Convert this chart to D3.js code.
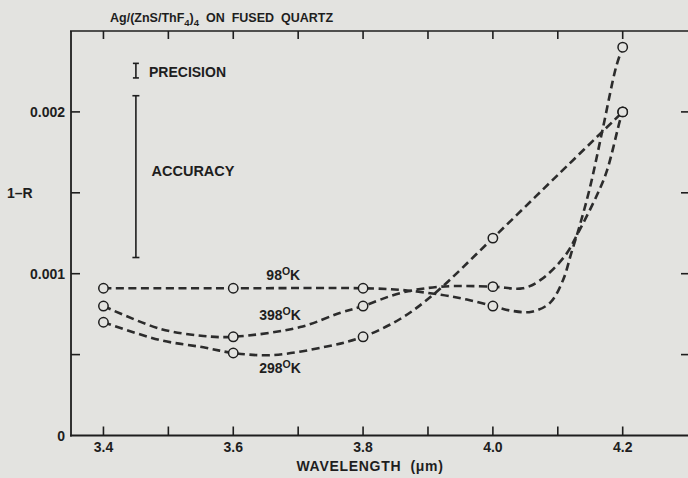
<!DOCTYPE html>
<html><head><meta charset="utf-8">
<script src="https://cdn.jsdelivr.net/npm/d3@7"></script>
<style>
html,body{margin:0;padding:0;background:#e3e3e0;}
svg{display:block;}
text{font-family:"Liberation Sans",Arial,Helvetica,sans-serif;font-weight:bold;fill:#1e1e1e;}
</style></head>
<body>
<script>
// ---- data ----
const wavelengths = [3.4, 3.6, 3.8, 4.0, 4.2];
const r98  = [0.00091, 0.00091, 0.00091, 0.00080, 0.00240];
const r398 = [0.00080, 0.00061, 0.00080, 0.00092, 0.00200];
const r298 = [0.00070, 0.00051, 0.00061, 0.00122, 0.00200];
// hand-drawn curve traces [wavelength, 1-R]
const trace98 = [[3.4,0.00091],[3.6,0.00091],[3.8,0.00091],[3.857,0.00090],[3.92,0.00087],[3.96,0.00084],[4.0,0.00080],[4.03,0.00077],[4.06,0.000765],[4.088,0.00082],[4.108,0.00096],[4.121,0.00113],[4.134,0.00130],[4.15,0.00154],[4.169,0.00189],[4.19,0.00228],[4.2,0.00240]];
const trace398 = [[3.4,0.00080],[3.487,0.00066],[3.554,0.000615],[3.6,0.00061],[3.703,0.00067],[3.764,0.000757],[3.8,0.00080],[3.857,0.00088],[3.92,0.00092],[4.0,0.00092],[4.046,0.00091],[4.073,0.00096],[4.111,0.00111],[4.131,0.00125],[4.162,0.00150],[4.176,0.00164],[4.196,0.00195],[4.2,0.00200]];
const trace298 = [[3.4,0.00070],[3.487,0.00059],[3.554,0.000545],[3.6,0.00051],[3.66,0.000497],[3.744,0.00055],[3.8,0.00061],[3.857,0.00072],[3.908,0.00087],[4.0,0.00122],[4.1,0.00161],[4.2,0.00200]];
const seriesLabels = ["98", "398", "298"];
const xTickLabels = ["3.4", "3.6", "3.8", "4.0", "4.2"];
const yTickLabels = ["0", "0.001", "0.002"];
const xTicks = [3.4,3.5,3.6,3.7,3.8,3.9,4.0,4.1,4.2];
const yTicks = [0.0005,0.001,0.0015,0.002];
const precisionBar = [0.00221, 0.00230];
const accuracyBar = [0.00110, 0.00210];

const W = 688, H = 478;
const svg = d3.select("body").append("svg").attr("width", W).attr("height", H);
const x = d3.scaleLinear().domain([3.35, 4.3]).range([71, 687.6]);
const y = d3.scaleLinear().domain([0, 0.0025]).range([435.5, 31]);
const ink = "#1e1e1e";

// frame
svg.append("line").attr("x1", x(3.35)).attr("x2", x(3.35)).attr("y1", y(0.0025)).attr("y2", y(0)+1).attr("stroke", ink).attr("stroke-width", 1.8);
svg.append("line").attr("x1", x(3.35)-1).attr("x2", W).attr("y1", y(0)).attr("y2", y(0)).attr("stroke", ink).attr("stroke-width", 1.8);
svg.append("line").attr("x1", x(3.35)-1).attr("x2", W).attr("y1", y(0.0025)).attr("y2", y(0.0025)).attr("stroke", ink).attr("stroke-width", 1.6);

// ticks
const tk = svg.append("g").attr("stroke", ink).attr("stroke-width", 1.6);
xTicks.forEach(t => {
  tk.append("line").attr("x1", x(t)).attr("x2", x(t)).attr("y1", y(0)).attr("y2", y(0)-9);
  tk.append("line").attr("x1", x(t)).attr("x2", x(t)).attr("y1", y(0.0025)).attr("y2", y(0.0025)+8);
});
yTicks.forEach(t => {
  tk.append("line").attr("x1", x(3.35)).attr("x2", x(3.35)+9).attr("y1", y(t)).attr("y2", y(t));
  tk.append("line").attr("x1", W).attr("x2", W-7).attr("y1", y(t)).attr("y2", y(t));
});

// tick labels
xTickLabels.forEach(l => {
  svg.append("text").attr("x", x(+l)).attr("y", 452).attr("text-anchor", "middle").attr("font-size", 14).text(l);
});
yTickLabels.forEach(l => {
  svg.append("text").attr("x", 65).attr("y", y(+l)+5).attr("text-anchor", "end").attr("font-size", 14).text(l);
});
svg.append("text").attr("x", 7).attr("y", y(0.0015)+5).attr("font-size", 14).text("1\u2013R");
svg.append("text").attr("x", 370).attr("y", 471).attr("text-anchor", "middle").attr("font-size", 14)
  .attr("letter-spacing", 0.7).attr("xml:space", "preserve").text("WAVELENGTH  (\u03bcm)");

// title
const title = svg.append("text").attr("x", 110).attr("y", 22).attr("font-size", 12.5).attr("xml:space", "preserve");
title.append("tspan").text("Ag/(ZnS/ThF");
title.append("tspan").attr("font-size", 9.5).attr("dy", 4).text("4");
title.append("tspan").attr("dy", -4).text(")");
title.append("tspan").attr("font-size", 9.5).attr("dy", 4).text("4");
title.append("tspan").attr("dy", -4).text("  ON  FUSED  QUARTZ");

// precision / accuracy bars
function ibeam(v, cap) {
  const g = svg.append("g").attr("stroke", ink).attr("stroke-width", 1.6);
  g.append("line").attr("x1", x(3.45)).attr("x2", x(3.45)).attr("y1", y(v[0])).attr("y2", y(v[1]));
  [v[0], v[1]].forEach(e => g.append("line").attr("x1", x(3.45)-cap).attr("x2", x(3.45)+cap).attr("y1", y(e)).attr("y2", y(e)));
}
ibeam(precisionBar, 3);
ibeam(accuracyBar, 3.5);
svg.append("text").attr("x", 149).attr("y", 76.5).attr("font-size", 14).text("PRECISION");
svg.append("text").attr("x", 151.5).attr("y", 175.5).attr("font-size", 14.5).text("ACCURACY");

// curves
const line = d3.line().x(d => x(d[0])).y(d => y(d[1])).curve(d3.curveCatmullRom.alpha(0.5));
[trace98, trace398, trace298].forEach(tr => {
  svg.append("path").attr("d", line(tr)).attr("fill", "none").attr("stroke", "#2c2c2c")
    .attr("stroke-width", 2.6).attr("stroke-dasharray", "8,4.5");
});
[r98, r398, r298].forEach(s => {
  svg.append("g").selectAll("circle").data(s).join("circle")
    .attr("cx", (d, i) => x(wavelengths[i])).attr("cy", d => y(d)).attr("r", 4.7)
    .attr("fill", "#e3e3e0").attr("stroke", ink).attr("stroke-width", 1.5);
});

// curve labels
const labelPos = [[3.651, 0.000961], [3.64, 0.000714], [3.64, 0.000384]];
seriesLabels.forEach((l, i) => {
  const t = svg.append("text").attr("x", x(labelPos[i][0])).attr("y", y(labelPos[i][1])).attr("font-size", 14);
  t.append("tspan").text(l);
  t.append("tspan").attr("font-size", 10.5).attr("dy", -5).text("O");
  t.append("tspan").attr("dy", 5).text("K");
});
</script>
</body></html>
